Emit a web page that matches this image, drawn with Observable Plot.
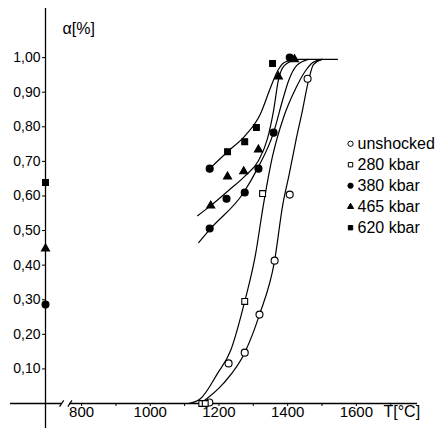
<!DOCTYPE html>
<html>
<head>
<meta charset="utf-8">
<script src="https://cdn.jsdelivr.net/npm/d3@7"></script>
<script src="https://cdn.jsdelivr.net/npm/@observablehq/plot@0.6"></script>
<style>
  html, body { margin: 0; padding: 0; background: #fff; }
  #chart { width: 439px; height: 428px; }
</style>
</head>
<body>
<div id="chart"></div>
<script>
// ---- data (T in °C, alpha fraction) ----
const seriesNames = ["unshocked", "280 kbar", "380 kbar", "465 kbar", "620 kbar"];
const seriesSymbols = ["circle", "square", "circle", "triangle", "square"];
const seriesFilled = [false, false, true, true, true];

const ptsUnshocked = [[1172,0.003],[1228,0.116],[1275,0.147],[1318,0.257],[1362,0.413],[1406,0.604],[1458,0.939]];
const pts280 = [[1150,0],[1160,0],[1275,0.295],[1327,0.607]];
const pts380 = [[695,0.286],[1173,0.679],[1173,0.506],[1222,0.592],[1275,0.610],[1315,0.679],[1359,0.783],[1406,1.0]];
const pts465 = [[695,0.448],[1176,0.572],[1225,0.656],[1272,0.671],[1315,0.734],[1373,0.945],[1420,0.995]];
const pts620 = [[695,0.639],[1225,0.728],[1275,0.757],[1309,0.798],[1356,0.983]];

const curveUnshocked = [[1146,0],[1213,0.058],[1275,0.147],[1318,0.257],[1362,0.413],[1385,0.57],[1405,0.665],[1425,0.765],[1443,0.847],[1461,0.935],[1475,0.980],[1500,0.995]];
const curve280 = [[1111,0],[1146,0.014],[1196,0.087],[1234,0.153],[1275,0.295],[1307,0.434],[1327,0.560],[1356,0.715],[1388,0.827],[1423,0.910],[1452,0.962],[1473,0.986],[1500,0.995]];
const curve380 = [[1141,0.465],[1176,0.506],[1272,0.610],[1312,0.679],[1359,0.783],[1385,0.876],[1403,0.934],[1426,0.977],[1460,0.995]];
const curve465 = [[1138,0.543],[1176,0.572],[1228,0.616],[1277,0.659],[1315,0.702],[1341,0.765],[1359,0.847],[1373,0.935],[1390,0.977],[1425,0.995]];
const curve620 = [[1173,0.679],[1225,0.728],[1277,0.775],[1321,0.838],[1350,0.913],[1371,0.962],[1390,0.986],[1425,0.995]];
const flatTop = [[1410,0.995],[1545,0.995]];

const xTicks = [800, 1000, 1200, 1400, 1600];
const xMinorTicks = [800, 900, 1000, 1100, 1200, 1300, 1400, 1500, 1600, 1700];
const yTicks = [0.1, 0.2, 0.3, 0.4, 0.5, 0.6, 0.7, 0.8, 0.9, 1.0];
const breakMarks = [742, 766];
const xLabel = "T[°C]";
const yLabel = "α[%]";

// ---- build ----
const toObj = (arr, s) => arr.map(([T, v]) => ({T, v, s}));
const points = [
  ...toObj(ptsUnshocked, 0), ...toObj(pts280, 1), ...toObj(pts380, 2),
  ...toObj(pts465, 3), ...toObj(pts620, 4)
];
const curves = [curveUnshocked, curve280, curve380, curve465, curve620, flatTop];
const legendRows = seriesNames.map((name, i) => ({name, i}));

const X0 = 695, X1 = 1778, Y1 = 1.142;
const legendX = 1583, legendY = 0.751, legendStep = 0.0607;

const sizeFor = sym => sym === "triangle" ? 3.0 : sym === "square" ? 3.3 : 3.5;

const marks = [
  // axis lines
  Plot.ruleY([0], {x1: 593, x2: X1, stroke: "black", strokeWidth: 1.3}),
  Plot.ruleX([X0], {y1: -0.072, y2: Y1, stroke: "black", strokeWidth: 1.3}),
  // axis break
  Plot.ruleY([0], {x1: breakMarks[0] + 1, x2: breakMarks[1] - 1, stroke: "white", strokeWidth: 4}),
  Plot.link(breakMarks, {x1: d => d - 6, x2: d => d + 6, y1: -0.009, y2: 0.009, stroke: "black", strokeWidth: 1.2}),
  // axes
  Plot.axisY({ticks: yTicks, tickSize: 3, tickPadding: 2, fontSize: 14, label: null,
    tickFormat: d => d.toFixed(2).replace(".", ",")}),
  Plot.axisX({ticks: xMinorTicks, tickSize: 3, tickFormat: () => "", label: null}),
  Plot.axisX({ticks: xTicks, tickSize: 0, tickPadding: 3, fontSize: 15, label: null, tickFormat: d => String(d)}),
  // curves
  ...curves.map(c => Plot.line(c, {x: d => d[0], y: d => d[1], curve: "monotone-x", stroke: "black", strokeWidth: 1.2})),
  // data points
  Plot.dot(points, {x: "T", y: "v", symbol: d => seriesSymbols[d.s], r: d => sizeFor(seriesSymbols[d.s]),
    fill: d => seriesFilled[d.s] ? "black" : "white", stroke: "black", strokeWidth: 1.1}),
  // legend
  Plot.dot(legendRows, {x: () => legendX, y: d => legendY - d.i * legendStep,
    symbol: d => seriesSymbols[d.i], r: d => sizeFor(seriesSymbols[d.i]) * 0.75,
    fill: d => seriesFilled[d.i] ? "black" : "white", stroke: "black", strokeWidth: 1}),
  Plot.text(legendRows, {x: () => legendX, y: d => legendY - d.i * legendStep, text: "name",
    dx: 7, textAnchor: "start", fontSize: 16, fill: "black"}),
  // axis titles
  Plot.text([xLabel], {frameAnchor: "bottom-right", dx: -34, dy: 13, textAnchor: "start", fontSize: 16, fill: "black"}),
  Plot.text([yLabel], {frameAnchor: "top-left", dx: 17, dy: 14, textAnchor: "start", fontSize: 16, fill: "black"})
];

const chart = Plot.plot({
  width: 439,
  height: 428,
  marginLeft: 45,
  marginRight: 22,
  marginTop: 8,
  marginBottom: 25,
  x: {domain: [X0, X1], axis: null},
  y: {domain: [0, Y1], axis: null},
  r: {type: "identity"},
  symbol: {domain: ["circle", "square", "triangle"], range: ["circle", "square", "triangle"]},
  style: {fontFamily: "'Liberation Sans', Arial, sans-serif", fontSize: "14px", background: "white", color: "black", overflow: "visible"},
  marks
});
document.getElementById("chart").appendChild(chart);
</script>
</body>
</html>
